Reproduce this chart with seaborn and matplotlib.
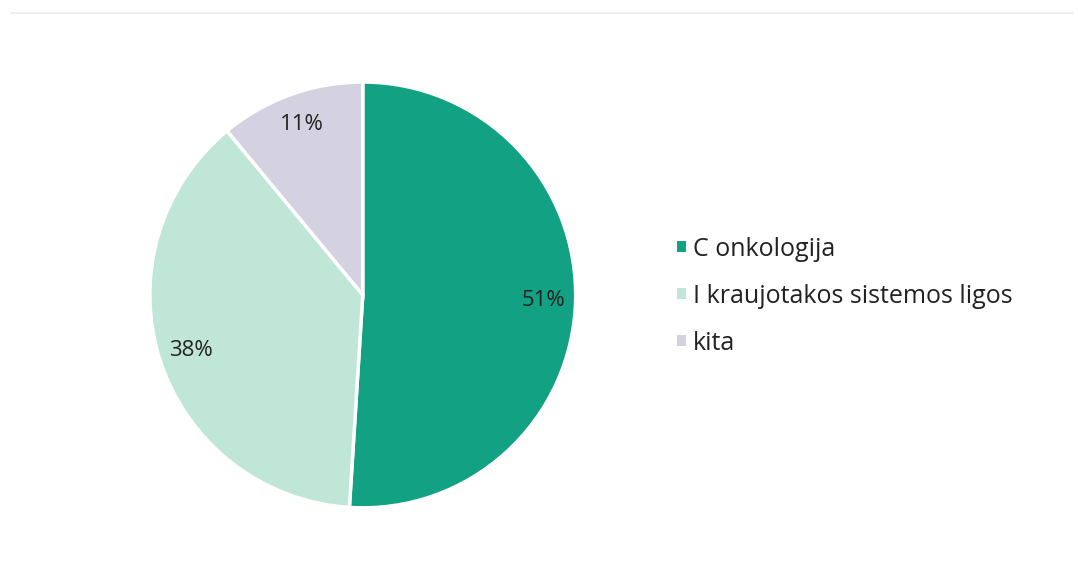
import matplotlib
matplotlib.use("Agg")
import matplotlib.pyplot as plt
from matplotlib.lines import Line2D
from matplotlib.patches import Patch
import numpy as np
import seaborn as sns

labels = ["C onkologija", "I kraujotakos sistemos ligos", "kita"]
shares = [51, 38, 11]
pct_text = ["51%", "38%", "11%"]
colors = ["#13a184", "#bfe6d6", "#d4d2e0"]

sns.set_theme(style="white")
plt.rcParams["font.family"] = ["Open Sans", "DejaVu Sans"]

fig = plt.figure(figsize=(10.78, 5.65), dpi=100)
fig.patch.set_facecolor("white")

# faint frame line at the top, as in the scanned original
fig.add_artist(Line2D([0.01, 0.995], [0.977, 0.977], color="#ececec", lw=1.2))

ax = fig.add_axes([0.139, 0.101, 0.395, 0.754])
wedges, texts = ax.pie(
    shares,
    colors=colors,
    startangle=90,
    counterclock=False,
    wedgeprops=dict(edgecolor="white", linewidth=2.5),
)
ax.set_xlim(-1.0, 1.0)
ax.set_ylim(-1.0, 1.0)
ax.set_aspect("equal")

# percentage labels placed inside each wedge
for w, txt in zip(wedges, pct_text):
    ang = np.deg2rad((w.theta1 + w.theta2) / 2)
    r = 0.85
    ax.text(r * np.cos(ang), r * np.sin(ang), txt,
            ha="center", va="center", fontsize=16, color="#222222")

handles = [Patch(facecolor=c, edgecolor="none") for c in colors]
fig.legend(
    handles, labels,
    loc="center left", bbox_to_anchor=(0.607, 0.476),
    frameon=False, fontsize=18,
    handlelength=0.35, handleheight=0.35, handletextpad=0.3,
    labelspacing=0.88, labelcolor="#222222",
)

fig.savefig("out.png", dpi=100, facecolor="white")
